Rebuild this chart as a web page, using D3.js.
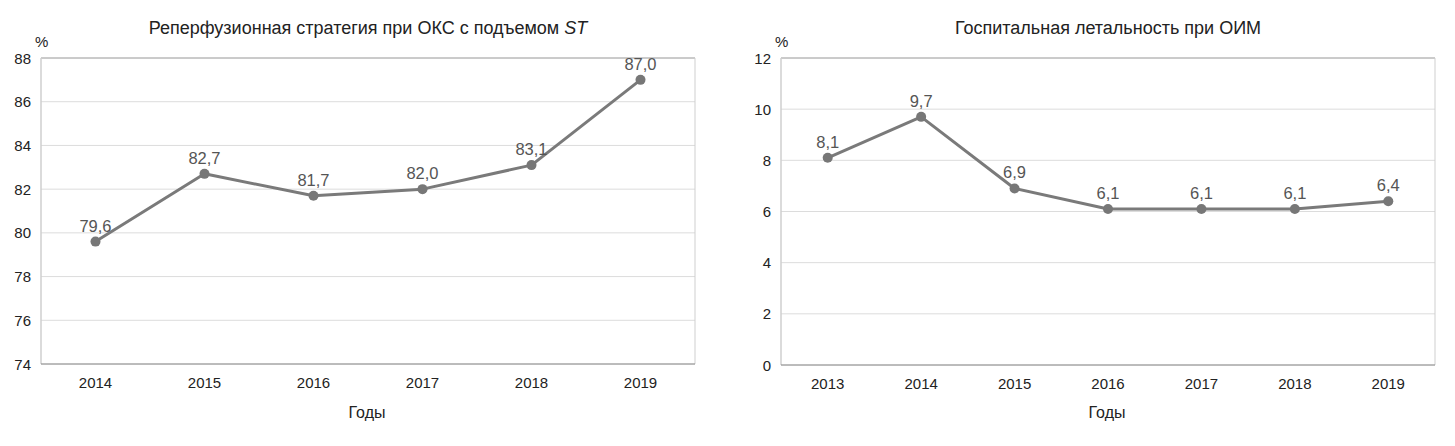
<!DOCTYPE html>
<html>
<head>
<meta charset="utf-8">
<script src="https://cdn.jsdelivr.net/npm/d3@7"></script>
<style>
  body { margin: 0; background: #fff; }
  svg text { font-family: "Liberation Sans", Arial, Helvetica, sans-serif; }
</style>
</head>
<body>
<svg id="chart" width="1455" height="446"></svg>
<script>
(function () {
  'use strict';

  // Left panel: reperfusion strategy in STEMI
  var yearsLeft  = ['2014', '2015', '2016', '2017', '2018', '2019'];
  var valuesLeft = [79.6, 82.7, 81.7, 82.0, 83.1, 87.0];
  var ticksLeft  = [74, 76, 78, 80, 82, 84, 86, 88];

  // Right panel: in-hospital mortality in AMI
  var yearsRight  = ['2013', '2014', '2015', '2016', '2017', '2018', '2019'];
  var valuesRight = [8.1, 9.7, 6.9, 6.1, 6.1, 6.1, 6.4];
  var ticksRight  = [0, 2, 4, 6, 8, 10, 12];

  var svg = d3.select('#chart');

  function fmt(v) { return v.toFixed(1).replace('.', ','); }

  function drawPanel(opt) {
    var g = svg.append('g');
    var x = d3.scalePoint().domain(opt.years).range([opt.x0, opt.x1]).padding(0.5);
    var y = d3.scaleLinear().domain(opt.domain).range([opt.y1, opt.y0]);

    // gridlines
    g.append('g').selectAll('line').data(opt.ticks).enter()
      .append('line')
      .attr('x1', opt.x0).attr('x2', opt.x1)
      .attr('y1', function (d) { return y(d); })
      .attr('y2', function (d) { return y(d); })
      .attr('stroke', '#dcdcdc').attr('stroke-width', 1);

    // frame
    g.append('line').attr('x1', opt.x0).attr('x2', opt.x1).attr('y1', opt.y0).attr('y2', opt.y0)
      .attr('stroke', '#a8a8a8');
    g.append('line').attr('x1', opt.x1).attr('x2', opt.x1).attr('y1', opt.y0).attr('y2', opt.y1)
      .attr('stroke', '#cfcfcf');
    g.append('line').attr('x1', opt.x0).attr('x2', opt.x0).attr('y1', opt.y0).attr('y2', opt.y1)
      .attr('stroke', '#cfcfcf').attr('stroke-width', 1.5);
    g.append('line').attr('x1', opt.x0).attr('x2', opt.x1).attr('y1', opt.y1).attr('y2', opt.y1)
      .attr('stroke', '#8a8a8a').attr('stroke-width', 1.2);

    // y tick labels
    g.append('g').selectAll('text').data(opt.ticks).enter()
      .append('text')
      .attr('x', opt.x0 - 10)
      .attr('y', function (d) { return y(d) + 5.5; })
      .attr('text-anchor', 'end')
      .attr('font-size', '15px')
      .attr('fill', '#222')
      .text(function (d) { return d; });

    // x tick labels
    g.append('g').selectAll('text').data(opt.years).enter()
      .append('text')
      .attr('x', function (d) { return x(d); })
      .attr('y', opt.y1 + 24)
      .attr('text-anchor', 'middle')
      .attr('font-size', '15px')
      .attr('fill', '#222')
      .text(function (d) { return d; });

    // unit, axis title
    g.append('text').attr('x', opt.x0 - 6).attr('y', 47)
      .attr('font-size', '15px').attr('fill', '#222').text('%');
    g.append('text').attr('x', (opt.x0 + opt.x1) / 2 - 1).attr('y', 418)
      .attr('text-anchor', 'middle').attr('font-size', '16px').attr('fill', '#222').text('Годы');

    // title
    var t = g.append('text').attr('x', (opt.x0 + opt.x1) / 2).attr('y', 34)
      .attr('text-anchor', 'middle').attr('font-size', '18px').attr('fill', '#222');
    t.append('tspan').text(opt.title);
    if (opt.italic) t.append('tspan').attr('font-style', 'italic').text(opt.italic);

    // line + points
    var pts = opt.years.map(function (yr, i) { return { year: yr, v: opt.values[i] }; });
    g.append('path')
      .datum(pts)
      .attr('fill', 'none')
      .attr('stroke', '#7a7a7a')
      .attr('stroke-width', 3)
      .attr('stroke-linejoin', 'round')
      .attr('d', d3.line().x(function (d) { return x(d.year); }).y(function (d) { return y(d.v); }));

    g.append('g').selectAll('circle').data(pts).enter()
      .append('circle')
      .attr('cx', function (d) { return x(d.year); })
      .attr('cy', function (d) { return y(d.v); })
      .attr('r', 5)
      .attr('fill', '#777');

    g.append('g').selectAll('text').data(pts).enter()
      .append('text')
      .attr('x', function (d) { return x(d.year); })
      .attr('y', function (d) { return y(d.v) - 10; })
      .attr('text-anchor', 'middle')
      .attr('font-size', '16.5px')
      .attr('fill', '#555')
      .text(function (d) { return fmt(d.v); });
  }

  drawPanel({
    years: yearsLeft, values: valuesLeft, ticks: ticksLeft, domain: [74, 88],
    x0: 41, x1: 695, y0: 58, y1: 364,
    title: 'Реперфузионная стратегия при ОКС с подъемом ', italic: 'ST'
  });

  drawPanel({
    years: yearsRight, values: valuesRight, ticks: ticksRight, domain: [0, 12],
    x0: 781, x1: 1435, y0: 58, y1: 365,
    title: 'Госпитальная летальность при ОИМ'
  });
})();
</script>
</body>
</html>
